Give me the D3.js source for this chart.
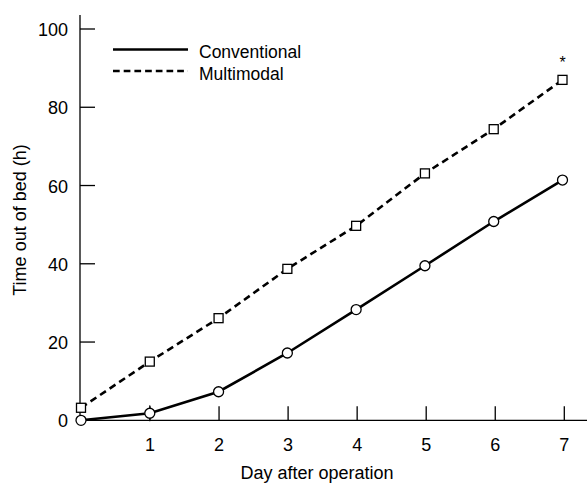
<!DOCTYPE html>
<html>
<head>
<meta charset="utf-8">
<script src="https://cdn.jsdelivr.net/npm/d3@7"></script>
<style>
    body { margin: 0; background: #fff; }
    svg { display: block; font-family: "Liberation Sans", Arial, sans-serif; }
</style>
</head>
<body>
<div id="chart"></div>
<script>
// data
const days = [0, 1, 2, 3, 4, 5, 6, 7];
const conventional = [0, 1.8, 7.3, 17.2, 28.3, 39.5, 50.8, 61.4];
const multimodal = [3.2, 15.0, 26.1, 38.7, 49.7, 63.1, 74.4, 87.0];
const xTicks = [1, 2, 3, 4, 5, 6, 7];
const yTicks = [0, 20, 40, 60, 80, 100];
const seriesNames = ["Conventional", "Multimodal"];

let width = 587, height = 484;

let svg = d3.select("#chart")
    .append("svg")
    .attr("width", width)
    .attr("height", height);

let x = d3.scaleLinear().domain([0, 7]).range([81, 562.5]);
let y = d3.scaleLinear().domain([0, 100]).range([420.3, 29]);

// axes lines
svg.append("line")
    .attr("x1", 80).attr("x2", 80)
    .attr("y1", 15).attr("y2", y(0))
    .attr("stroke", "#000").attr("stroke-width", 1.3);
svg.append("line")
    .attr("x1", 80).attr("x2", 587)
    .attr("y1", y(0)).attr("y2", y(0))
    .attr("stroke", "#000").attr("stroke-width", 1.3);

// y ticks (inward)
let yAxis = svg.append("g");
yAxis.selectAll(".ytick")
    .data(yTicks.filter(d => d > 0))
    .enter()
    .append("line")
    .attr("x1", 80).attr("x2", 95)
    .attr("y1", d => y(d)).attr("y2", d => y(d))
    .attr("stroke", "#000").attr("stroke-width", 1.3);
yAxis.selectAll(".ylab")
    .data(yTicks)
    .enter()
    .append("text")
    .attr("x", 68)
    .attr("y", d => y(d) + 7)
    .attr("text-anchor", "end")
    .style("font-size", "18px")
    .text(d => d);

// x ticks (inward)
let tickX = d3.scaleLinear().domain([1, 7]).range([150, 564.3]);
let xAxis = svg.append("g");
xAxis.selectAll(".xtick")
    .data(xTicks)
    .enter()
    .append("line")
    .attr("x1", d => tickX(d)).attr("x2", d => tickX(d))
    .attr("y1", y(0)).attr("y2", y(0) - 14)
    .attr("stroke", "#000").attr("stroke-width", 1.3);
xAxis.selectAll(".xlab")
    .data(xTicks)
    .enter()
    .append("text")
    .attr("x", d => tickX(d))
    .attr("y", 451)
    .attr("text-anchor", "middle")
    .style("font-size", "18px")
    .text(d => d);

// axis labels
svg.append("text")
    .attr("x", 317)
    .attr("y", 479)
    .attr("text-anchor", "middle")
    .style("font-size", "18px")
    .text("Day after operation");

svg.append("text")
    .attr("transform", "rotate(-90)")
    .attr("x", -220)
    .attr("y", 26)
    .attr("text-anchor", "middle")
    .style("font-size", "18px")
    .text("Time out of bed (h)");

// lines
let line = d3.line()
    .x((d, i) => x(days[i]))
    .y(d => y(d));

svg.append("path")
    .datum(multimodal)
    .attr("d", line)
    .attr("fill", "none")
    .attr("stroke", "#000")
    .attr("stroke-width", 2.6)
    .attr("stroke-dasharray", "7,4.5");

svg.append("path")
    .datum(conventional)
    .attr("d", line)
    .attr("fill", "none")
    .attr("stroke", "#000")
    .attr("stroke-width", 2.6);

// small error bar on day 1 conventional
svg.append("line")
    .attr("x1", x(1)).attr("x2", x(1))
    .attr("y1", y(conventional[1]) - 8).attr("y2", y(conventional[1]) + 8)
    .attr("stroke", "#000").attr("stroke-width", 1);

// markers
svg.selectAll(".sq")
    .data(multimodal)
    .enter()
    .append("rect")
    .attr("x", (d, i) => x(days[i]) - 4.5)
    .attr("y", d => y(d) - 4.5)
    .attr("width", 9).attr("height", 9)
    .attr("fill", "#fff")
    .attr("stroke", "#000")
    .attr("stroke-width", 1.3);

svg.selectAll(".dot")
    .data(conventional)
    .enter()
    .append("circle")
    .attr("cx", (d, i) => x(days[i]))
    .attr("cy", d => y(d))
    .attr("r", 5)
    .attr("fill", "#fff")
    .attr("stroke", "#000")
    .attr("stroke-width", 1.3);

// significance marker
svg.append("text")
    .attr("x", x(7))
    .attr("y", y(multimodal[7]) - 12)
    .attr("text-anchor", "middle")
    .style("font-size", "16px")
    .text("*");

// legend
let legend = svg.append("g");
legend.append("line")
    .attr("x1", 113).attr("x2", 188)
    .attr("y1", 49.5).attr("y2", 49.5)
    .attr("stroke", "#000").attr("stroke-width", 2.6);
legend.append("line")
    .attr("x1", 113).attr("x2", 188)
    .attr("y1", 71).attr("y2", 71)
    .attr("stroke", "#000").attr("stroke-width", 2.6)
    .attr("stroke-dasharray", "6.7,4");
legend.append("text")
    .attr("x", 199).attr("y", 58)
    .style("font-size", "17.5px")
    .text(seriesNames[0]);
legend.append("text")
    .attr("x", 199).attr("y", 80)
    .style("font-size", "17.5px")
    .text(seriesNames[1]);
</script>
</body>
</html>
